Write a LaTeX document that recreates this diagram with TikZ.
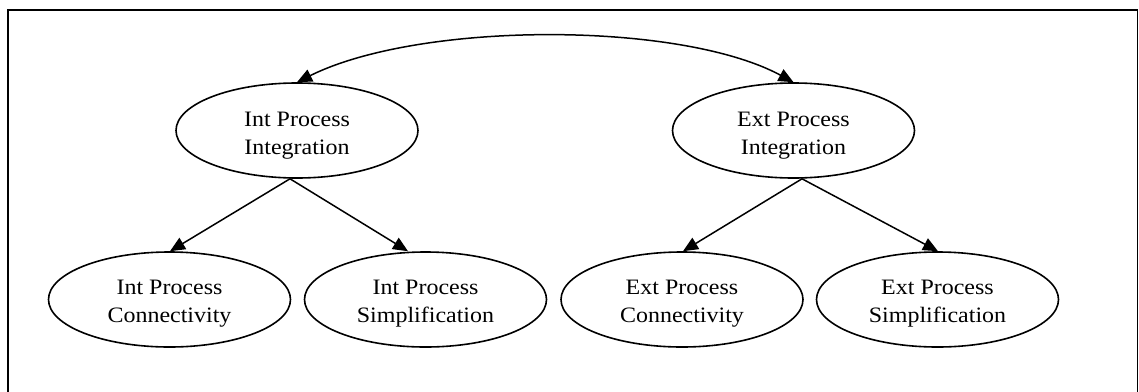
\documentclass[tikz,border=0pt]{standalone}
\usepackage{fontspec}
\setmainfont{Liberation Serif}[FakeStretch=1.09]
\usetikzlibrary{shapes.geometric,arrows.meta}
\begin{document}
\begin{tikzpicture}[x=1pt,y=-1pt,
  ell/.style={draw,ellipse,line width=1.6pt,minimum width=242pt,minimum height=95pt,inner sep=0pt},
  txt/.style={align=center,inner sep=0pt,font=\fontsize{22}{27.5}\selectfont},
  tip/.style={Triangle[length=15pt,width=13pt]},
  edge/.style={line width=1.5pt,-{Triangle[length=15pt,width=13pt]}},
  frame/.style={line width=1.6pt}]
\useasboundingbox (0,0) rectangle (1139,391);
\draw[frame] (8,400) -- (8,10) -- (1137.5,10) -- (1137.5,400);
% nodes
\node[ell] (ii) at (297,130.5) {};
\node[ell] (ei) at (793.5,130.5) {};
\node[ell] (ic) at (169.5,299.5) {};
\node[ell] (is) at (425.5,299.5) {};
\node[ell] (ec) at (682,299.5) {};
\node[ell] (es) at (937.5,299.5) {};
\node[txt] (iit) at ([yshift=-5pt]ii.center) {Int Process\\Integration};
\node[txt] (eit) at ([yshift=-5pt]ei.center) {Ext Process\\Integration};
\node[txt] (ict) at ([yshift=-4pt]ic.center) {Int Process\\Connectivity};
\node[txt] (ist) at ([yshift=-4pt]is.center) {Int Process\\Simplification};
\node[txt] (ect) at ([yshift=-4pt]ec.center) {Ext Process\\Connectivity};
\node[txt] (est) at ([yshift=-4pt]es.center) {Ext Process\\Simplification};
% edges
\draw[line width=1.5pt,{Triangle[length=15pt,width=13pt]}-{Triangle[length=15pt,width=13pt]}]
  (ii.north) .. controls (420,21) and (680,21) .. (ei.north);
\draw[edge] ([xshift=-7pt]ii.south) -- ([xshift=0.5pt]ic.north);
\draw[edge] ([xshift=-7pt]ii.south) -- ([xshift=-17.5pt]is.north);
\draw[edge] ([xshift=8.5pt]ei.south) -- ([xshift=1pt]ec.north);
\draw[edge] ([xshift=8.5pt]ei.south) -- ([xshift=0.5pt]es.north);
\end{tikzpicture}
\end{document}
